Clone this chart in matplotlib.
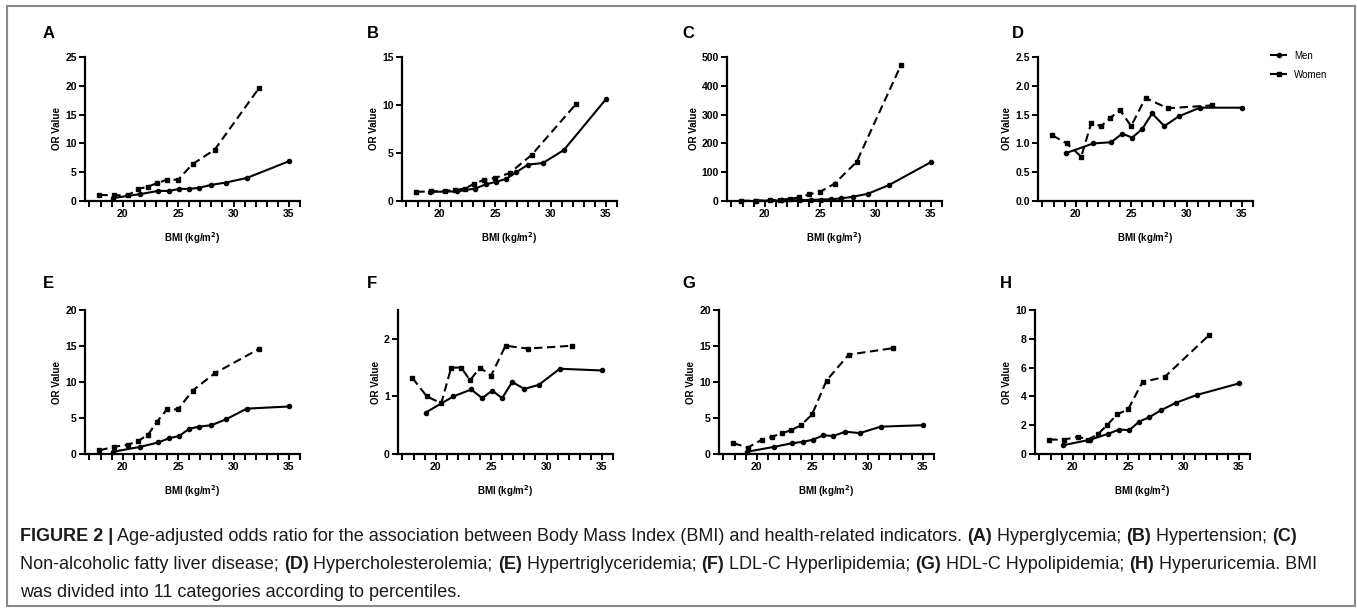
import matplotlib
matplotlib.use("Agg")
import matplotlib.pyplot as plt
from matplotlib.lines import Line2D
from matplotlib.patches import Rectangle
from matplotlib.ticker import FormatStrFormatter, MultipleLocator

plt.rcParams["font.family"] = ["Liberation Sans", "DejaVu Sans"]

# BMI category medians (x positions)
bmi_men = [19.1, 21.6, 23.2, 24.2, 25.1, 26.0, 26.9, 28.0, 29.3, 31.2, 35.0]
bmi_women = [17.9, 19.2, 20.5, 21.4, 22.3, 23.1, 24.0, 25.0, 26.3, 28.3, 32.3]

# Odds ratios
men_A = [0.5, 1.2, 1.75, 1.75, 2.1, 2.1, 2.3, 2.8, 3.2, 4.0, 6.9]
women_A = [1.05, 1.0, 1.0, 2.1, 2.5, 3.1, 3.7, 3.7, 6.4, 8.9, 19.6]
men_B = [0.95, 1.0, 1.3, 1.75, 2.0, 2.3, 3.0, 3.8, 3.95, 5.3, 10.6]
women_B = [0.95, 1.0, 1.05, 1.15, 1.3, 1.8, 2.2, 2.4, 2.9, 4.8, 10.1]
men_C = [1, 2, 3, 4, 5, 6, 9, 15, 25, 55, 135]
women_C = [1, 1, 2, 5, 7, 13, 23, 32, 60, 136, 472]
men_D = [0.83, 1.0, 1.02, 1.17, 1.1, 1.25, 1.52, 1.3, 1.47, 1.62, 1.62]
women_D = [1.14, 1.0, 0.77, 1.35, 1.30, 1.44, 1.58, 1.30, 1.79, 1.61, 1.66]
men_E = [0.3, 1.0, 1.6, 2.2, 2.5, 3.5, 3.8, 4.0, 4.8, 6.3, 6.6]
women_E = [0.5, 1.0, 1.3, 1.8, 2.7, 4.5, 6.2, 6.2, 8.8, 11.2, 14.6]
men_F = [0.72, 1.0, 1.12, 0.97, 1.1, 0.97, 1.25, 1.13, 1.2, 1.48, 1.45]
women_F = [1.32, 1.0, 0.88, 1.5, 1.5, 1.28, 1.5, 1.36, 1.88, 1.83, 1.88]
men_G = [0.3, 1.0, 1.5, 1.7, 2.0, 2.6, 2.5, 3.1, 2.9, 3.8, 4.0]
women_G = [1.5, 0.9, 2.0, 2.4, 2.9, 3.3, 4.0, 5.5, 10.2, 13.8, 14.7]
men_H = [0.6, 1.0, 1.4, 1.7, 1.65, 2.25, 2.55, 3.05, 3.55, 4.1, 4.9]
women_H = [1.0, 1.0, 1.2, 1.0, 1.4, 2.0, 2.75, 3.1, 5.0, 5.35, 8.25]

letters = ["A", "B", "C", "D", "E", "F", "G", "H"]
men_all = [men_A, men_B, men_C, men_D, men_E, men_F, men_G, men_H]
women_all = [women_A, women_B, women_C, women_D, women_E, women_F, women_G, women_H]
ymax_all = [25, 15, 500, 2.5, 20, 2.5, 20, 10]
ystep_all = [5, 5, 100, 0.5, 5, 1, 5, 2]

W, H = 1357, 612
fig = plt.figure(figsize=(W / 100, H / 100), dpi=100)

# outer frame
fig.patches.append(Rectangle((7 / W, 6 / H), 1348 / W, 600 / H, transform=fig.transFigure,
                             fill=False, edgecolor="#8a8a8a", linewidth=1.5))

lefts = [85, 402, 727, 1038, 85, 398, 719, 1035]
tops = [57, 57, 57, 57, 310, 310, 310, 310]
letter_pos = [(43, 33), (367, 33), (682, 33), (1012, 33), (43, 283), (367, 283), (682, 283), (1000, 283)]
ax_w, ax_h = 215, 144

for i in range(8):
    ax = fig.add_axes([lefts[i] / W, 1 - (tops[i] + ax_h) / H, ax_w / W, ax_h / H])
    ax.plot(bmi_men, men_all[i], color="black", lw=1.5, marker="o", ms=3.0,
            solid_joinstyle="miter", clip_on=False)
    ax.plot(bmi_women, women_all[i], color="black", lw=1.5, marker="s", ms=3.0,
            linestyle=(0, (4, 2.2)), clip_on=False)
    ax.set_xlim(16.6, 36.0)
    ax.set_ylim(0, ymax_all[i])
    ax.set_xticks([20, 25, 30, 35])
    ax.xaxis.set_minor_locator(MultipleLocator(1))
    if letters[i] == "F":
        ax.set_yticks([0, 1, 2])
    else:
        ax.yaxis.set_major_locator(MultipleLocator(ystep_all[i]))
    if letters[i] == "D":
        ax.yaxis.set_major_formatter(FormatStrFormatter("%.1f"))
    for s in ["top", "right"]:
        ax.spines[s].set_visible(False)
    for s in ["left", "bottom"]:
        ax.spines[s].set_linewidth(1.6)
    ax.tick_params(which="both", direction="out", length=4, width=1.4, labelsize=7.5, pad=2)
    for lab in ax.get_xticklabels() + ax.get_yticklabels():
        lab.set_fontweight("bold")
    ax.set_ylabel("OR Value", fontsize=7, fontweight="bold", labelpad=2)
    ax.set_xlabel("BMI (kg/m$^\\mathbf{2}$)", fontsize=7, fontweight="bold", labelpad=8)
    fig.text(letter_pos[i][0] / W, 1 - letter_pos[i][1] / H, letters[i], fontsize=12,
             fontweight="bold", va="center", ha="left")

handles = [Line2D([], [], color="black", lw=1.5, marker="o", ms=3.0),
           Line2D([], [], color="black", lw=1.5, marker="s", ms=3.0)]
fig.legend(handles, ["Men", "Women"], loc="upper left", bbox_to_anchor=(1262 / W, 1 - 42 / H),
           frameon=False, fontsize=7, handlelength=1.6, labelspacing=0.9)

# caption with mixed bold / regular pieces
caption = [
    [("FIGURE 2 |", True),
     (" Age-adjusted odds ratio for the association between Body Mass Index (BMI) and health-related indicators. ", False),
     ("(A)", True), (" Hyperglycemia; ", False), ("(B)", True), (" Hypertension; ", False), ("(C)", True)],
    [("Non-alcoholic fatty liver disease; ", False), ("(D)", True), (" Hypercholesterolemia; ", False),
     ("(E)", True), (" Hypertriglyceridemia; ", False), ("(F)", True), (" LDL-C Hyperlipidemia; ", False),
     ("(G)", True), (" HDL-C Hypolipidemia; ", False), ("(H)", True), (" Hyperuricemia. BMI", False)],
    [("was divided into 11 categories according to percentiles.", False)],
]
line_y = [541, 569, 597]

renderer = fig.canvas.get_renderer()
for line, y in zip(caption, line_y):
    x = 20
    for txt, bold in line:
        t = fig.text(x / W, 1 - y / H, txt, fontsize=13.0, fontweight="bold" if bold else "normal",
                     color="#1a1a1a", va="baseline", ha="left")
        bb = t.get_window_extent(renderer)
        x = bb.x1

fig.savefig("out.png", dpi=100)
